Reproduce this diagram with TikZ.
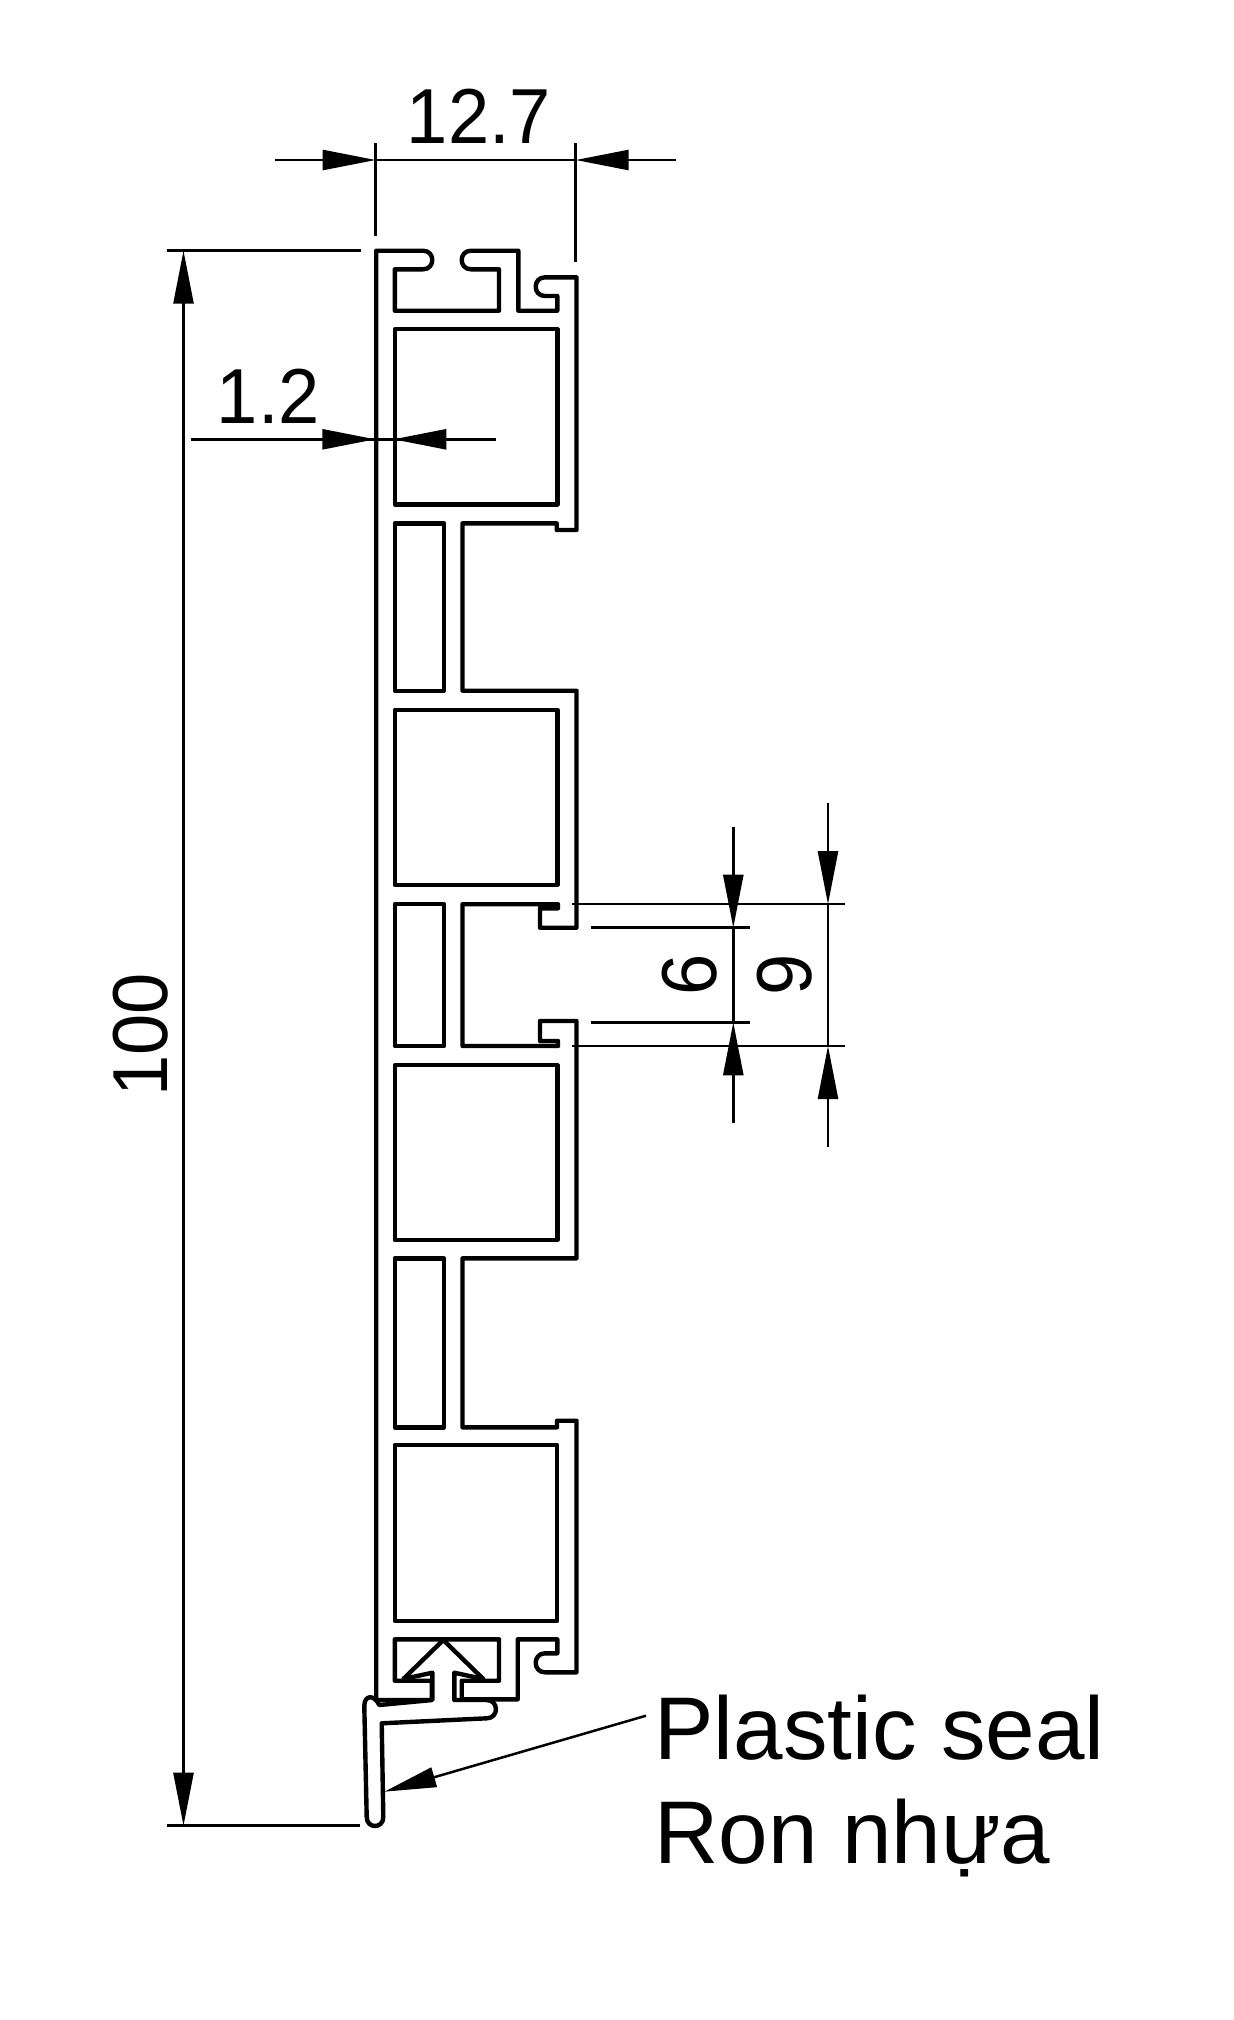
\documentclass[tikz,border=0pt]{standalone}
\usepackage{fontspec}
\setmainfont{Liberation Sans}
\usetikzlibrary{arrows.meta}
\tikzset{
  px/.style={x=0.5pt,y=-0.5pt},
  profile/.style={draw=black,line width=2.2pt,line join=round},
  dimline/.style={draw=black,line width=1.25pt},
  dimarrow/.style={dimline,-{Triangle[length=26.5pt,width=10pt,sep=0pt]}},
  leader/.style={dimline,-{Triangle[length=26pt,width=10pt,sep=0pt]}},
  numlabel/.style={inner sep=0pt,font=\fontsize{39}{39}\selectfont},
  seallabel/.style={inner sep=0pt,anchor=base west,font=\fontsize{44.5}{44.5}\selectfont},
}
\newcommand{\narrownum}[1]{\scalebox{0.95}[1]{#1}}
\begin{document}
\begin{tikzpicture}[px]
\useasboundingbox (0,0) rectangle (1234,2020);
\fill[white] (0,0) rectangle (1234,2020);

% main profile outline
\draw[profile] (376.2,250.7) -- (423,250.7)
  .. controls (435.4,250.7) and (435.4,269.3) .. (423,269.3)
  -- (394.8,269.3) -- (394.8,310.7) -- (499,310.7) -- (499,269.3) -- (471,269.3)
  .. controls (458.6,269.3) and (458.6,250.7) .. (471,250.7)
  -- (518.3,250.7) -- (518.3,310.7) -- (557.3,310.7) -- (557.3,296) -- (545,296)
  .. controls (532.6,296) and (532.6,277.3) .. (545,277.3)
  -- (576.5,277.3) -- (576.5,530) -- (556.7,530) -- (556.7,523.3) -- (462.5,523.3)
  -- (462.5,690.7) -- (576.5,690.7) -- (576.5,927.7) -- (540,927.7) -- (540,908.3) -- (558,908.3)
  -- (558,904.2) -- (462.5,904.2) -- (462.5,1046) -- (558,1046) -- (558,1041)
  -- (540,1041) -- (540,1021) -- (576.5,1021) -- (576.5,1258.3) -- (462.5,1258.3)
  -- (462.5,1427.3) -- (557,1427.3) -- (557,1420.7) -- (576.5,1420.7) -- (576.5,1672.3)
  -- (545,1672.3)
  .. controls (532.6,1672.3) and (532.6,1653.3) .. (545,1653.3)
  -- (557.3,1653.3) -- (557.3,1639.3) -- (517.7,1639.3) -- (517.7,1699.3) -- (461.7,1699.3)
  -- (461.7,1680.7) -- (499,1680.7) -- (499,1639.3) -- (394.8,1639.3) -- (394.8,1680.7)
  -- (431.7,1680.7) -- (431.7,1700) -- (376.2,1700) -- cycle;

% hollow chambers
\draw[profile] (394.8,329) rectangle (557.3,504.3);
\draw[profile] (394.8,523.3) rectangle (444,690.7);
\draw[profile] (394.8,709.7) rectangle (557.3,885);
\draw[profile] (394.8,904.2) rectangle (444,1046);
\draw[profile] (394.8,1065) rectangle (557.3,1240);
\draw[profile] (394.8,1258.3) rectangle (444,1427.3);
\draw[profile] (394.8,1445) rectangle (557,1621);

% plastic seal
\draw[profile,fill=white] (443.3,1640) -- (483.3,1679) -- (454.3,1672.7) -- (454.3,1700) -- (486.7,1700)
  .. controls (499,1700) and (499,1718.3) .. (486.7,1718.3)
  -- (381.7,1723.3) -- (383.3,1817)
  .. controls (383.3,1829) and (366.7,1829) .. (366.7,1817)
  -- (364.3,1706)
  .. controls (364.3,1695) and (374,1694) .. (379.3,1705)
  -- (432.3,1700) -- (432.3,1672.7) -- (403.3,1679) -- cycle;

% named dimension points
\coordinate (wL) at (375.7,160);
\coordinate (wR) at (575.7,160);
\coordinate (wLo) at (275,160);
\coordinate (wRo) at (676,160);
\coordinate (wLt) at (375.7,143.3);
\coordinate (wLb) at (375.7,235.7);
\coordinate (wRt) at (575.7,143.3);
\coordinate (wRb) at (575.7,262.3);
\coordinate (hTa) at (166.5,250.7);
\coordinate (hTb) at (361,250.7);
\coordinate (hBa) at (166.5,1825.7);
\coordinate (hBb) at (360,1825.7);
\coordinate (hT) at (183.5,250.7);
\coordinate (hB) at (183.5,1825.7);
\coordinate (tL) at (375.3,439.3);
\coordinate (tR) at (393.3,439.3);
\coordinate (tLo) at (190.7,439.3);
\coordinate (tRo) at (496,439.3);
\coordinate (e9Ta) at (572.3,904.2);
\coordinate (e9Tb) at (845,904.2);
\coordinate (e9Ba) at (572.3,1046);
\coordinate (e9Bb) at (845,1046);
\coordinate (e6Ta) at (590.7,927.7);
\coordinate (e6Tb) at (750,927.7);
\coordinate (e6Ba) at (590.7,1022.3);
\coordinate (e6Bb) at (750,1022.3);
\coordinate (d6T) at (733.3,927.7);
\coordinate (d6B) at (733.3,1022.3);
\coordinate (d6To) at (733.3,826.7);
\coordinate (d6Bo) at (733.3,1123.3);
\coordinate (d9T) at (828,904.2);
\coordinate (d9B) at (828,1046);
\coordinate (d9To) at (828,803.3);
\coordinate (d9Bo) at (828,1146.7);
\coordinate (sealStart) at (646,1715.7);
\coordinate (sealTip) at (384.3,1791.7);

% 12.7
\draw[dimline] (wLt) -- (wLb);
\draw[dimline] (wRt) -- (wRb);
\draw[dimline] (wL) -- (wR);
\draw[dimarrow] (wLo) -- (wL);
\draw[dimarrow] (wRo) -- (wR);
\node[numlabel,anchor=base] (lab127) at (479,143) {\narrownum{12.7}};

% 100
\draw[dimline] (hTa) -- (hTb);
\draw[dimline] (hBa) -- (hBb);
\draw[dimarrow,{Triangle[length=26.5pt,width=10pt,sep=0pt]}-{Triangle[length=26.5pt,width=10pt,sep=0pt]}] (hT) -- (hB);
\node[numlabel,rotate=90,anchor=base] (lab100) at (167,1035) {\narrownum{100}};

% 1.2
\draw[dimline] (tLo) -- (tRo);
\draw[dimarrow] (tLo) -- (tL);
\draw[dimarrow] (tRo) -- (tR);
\node[numlabel,anchor=base] (lab12) at (268.5,423.3) {\narrownum{1.2}};

% 6
\draw[dimline] (e6Ta) -- (e6Tb);
\draw[dimline] (e6Ba) -- (e6Bb);
\draw[dimline] (d6T) -- (d6B);
\draw[dimarrow] (d6To) -- (d6T);
\draw[dimarrow] (d6Bo) -- (d6B);
\node[numlabel,rotate=90,anchor=base] (lab6) at (716,975) {\narrownum{6}};

% 9
\draw[dimline] (e9Ta) -- (e9Tb);
\draw[dimline] (e9Ba) -- (e9Bb);
\draw[dimline] (d9T) -- (d9B);
\draw[dimarrow] (d9To) -- (d9T);
\draw[dimarrow] (d9Bo) -- (d9B);
\node[numlabel,rotate=90,anchor=base] (lab9) at (811,975) {\narrownum{9}};

% seal callout
\draw[leader] (sealStart) -- (sealTip);
\node[seallabel] (lab1) at (654,1759) {Plastic seal};
\node[seallabel] (lab2) at (654,1863.3) {Ron nhựa};
\end{tikzpicture}
\end{document}
